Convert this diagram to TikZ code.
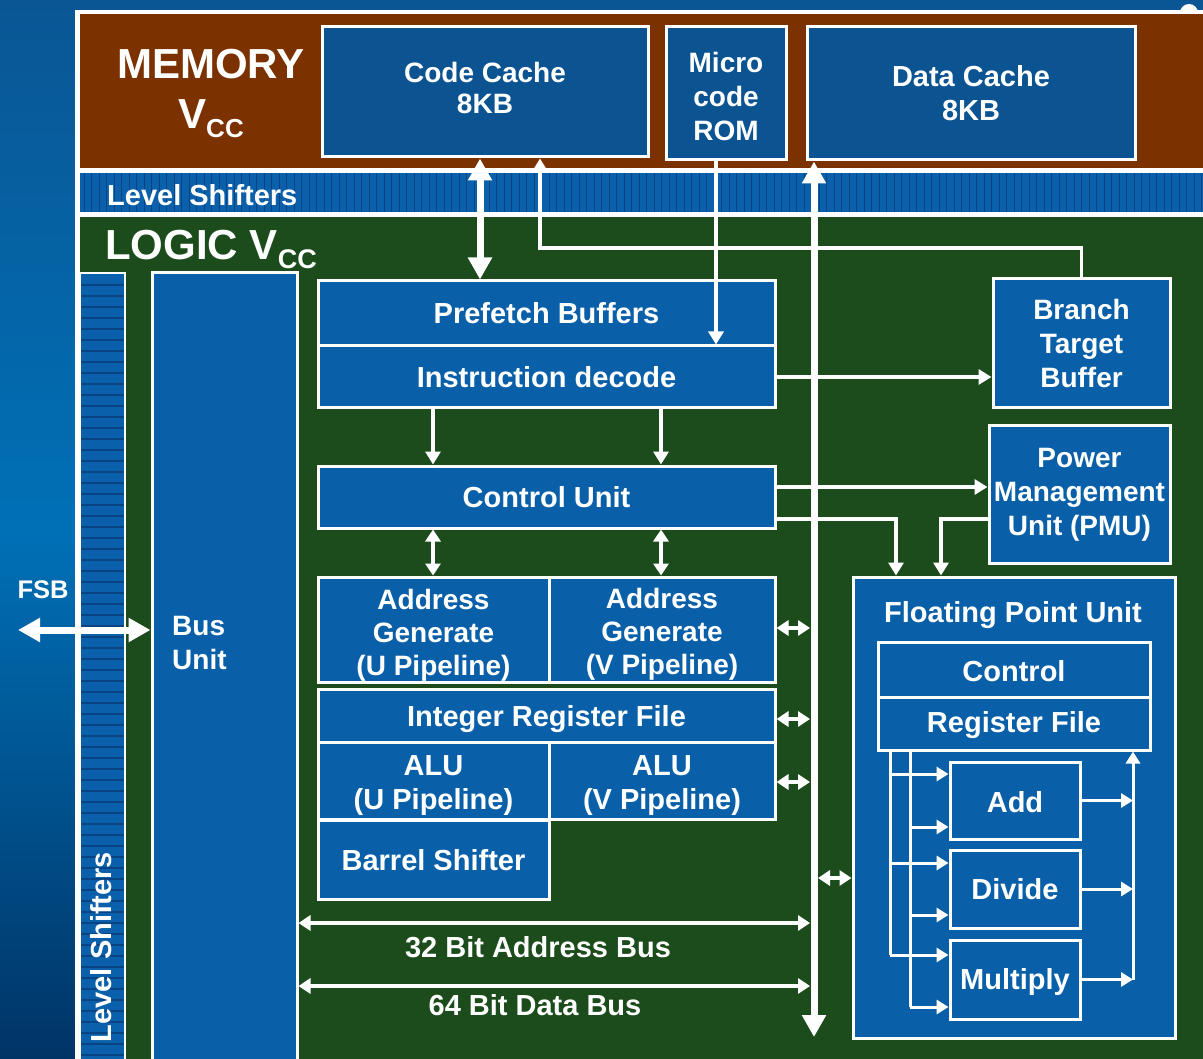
\documentclass[tikz,border=0pt]{standalone}
\usepackage{fontspec}
\setmainfont{Liberation Sans}
\usetikzlibrary{arrows.meta,calc}
\definecolor{bgtop}{RGB}{10,86,148}
\definecolor{bgmid}{RGB}{0,112,182}
\definecolor{bgbot}{RGB}{0,52,102}
\definecolor{brownmem}{RGB}{124,50,0}
\definecolor{greenlog}{RGB}{28,76,28}
\definecolor{boxblue}{RGB}{10,96,168}
\definecolor{memblue}{RGB}{11,83,145}
\definecolor{lsblue}{RGB}{10,96,170}
\definecolor{lsdark}{RGB}{8,68,130}
\begin{document}
\begin{tikzpicture}[x=1pt,y=-1pt,
  box/.style={draw=white,line width=3pt,fill=boxblue,text=white,
    font=\fontsize{29}{34}\selectfont\bfseries,align=center,inner sep=0pt},
  mbox/.style={box,fill=memblue},
  txt/.style={text=white,font=\fontsize{29}{34}\selectfont\bfseries,inner sep=0pt,align=center},
  stxt/.style={txt,font=\fontsize{28}{34}\selectfont\bfseries},
  arr/.style={draw=white,line width=3.5pt,-{Triangle[length=13pt,width=15pt]}},
  farr/.style={draw=white,line width=3pt,-{Triangle[length=12pt,width=14pt]}},
  darr/.style={draw=white,line width=3.5pt,{Triangle[length=12pt,width=15pt]}-{Triangle[length=12pt,width=15pt]}},
  bigarr/.style={draw=white,line width=7pt,{Triangle[length=22pt,width=23pt]}-{Triangle[length=22pt,width=23pt]}},
  ln/.style={draw=white,line width=3pt}]
\useasboundingbox (0,0) rectangle (1203,1059);
% background
\fill[top color=bgtop,bottom color=bgbot,middle color=bgmid] (0,0) rectangle (1203,1059);
\fill[white] (1189,13) circle (9);
\fill[white] (75,10) rectangle (1210,1070);
\fill[brownmem] (80,14) rectangle (1210,168);
\fill[lsblue] (80,173) rectangle (1210,212);
\foreach \x in {84,91.5,...,1203} \draw[lsdark,line width=1pt] (\x,173) -- (\x,212);
\fill[greenlog] (80,217) rectangle (1210,1070);
% left level shifter strip
\fill[lsblue] (80,273) rectangle (125,1070);
\foreach \y in {285,296,...,1059} \draw[lsdark,line width=1.8pt] (80,\y) -- (125,\y);
\draw[white,line width=2pt] (80,1070) -- (80,273) -- (125,273) -- (125,1070);
% labels
\node[txt,font=\fontsize{42}{50}\selectfont\bfseries] (memlbl) at (211,93.5)
  {MEMORY\\V\raisebox{-9pt}{\fontsize{26}{26}\selectfont CC}};
\node[txt,anchor=west] (lstop) at (107,195) {Level Shifters};
\node[txt,font=\fontsize{42}{50}\selectfont\bfseries,anchor=base west] (loglbl) at (105,260)
  {LOGIC V\raisebox{-9pt}{\fontsize{27}{27}\selectfont CC}};
\node[txt,rotate=90] (lsvert) at (101,947) {Level Shifters};
% memory boxes
\node[mbox,minimum width=326,minimum height=130,
  label={[stxt,yshift=4pt]center:{Code Cache\\[-3pt]8KB}}] (cc) at (485,92) {};
\node[mbox,minimum width=120,minimum height=133,
  label={[stxt,yshift=-3pt]center:{Micro\\code\\ROM}}] (rom) at (726,93.5) {};
\node[mbox,minimum width=328,minimum height=133] (dc) at (971,93.5) {Data Cache\\8KB};
% logic boxes
\node[box,minimum width=145,minimum height=802] (bus) at (224.5,674) {};
\node[stxt,align=left,anchor=west] (bustxt) at (172,643) {Bus\\Unit};
\node[box,minimum width=457,minimum height=65] (pf) at (546.5,313.5) {Prefetch Buffers};
\node[box,minimum width=457,minimum height=62] (id) at (546.5,377) {Instruction decode};
\node[box,minimum width=457,minimum height=62] (cu) at (546.5,497) {Control Unit};
\node[box,minimum width=231,minimum height=105,
  label={[stxt,yshift=-6pt,font=\fontsize{28}{33}\selectfont\bfseries]center:{Address\\Generate\\(U Pipeline)}}] (agu) at (433.5,629.5) {};
\node[box,minimum width=226,minimum height=105,
  label={[stxt,yshift=-5pt,font=\fontsize{28}{33}\selectfont\bfseries]center:{Address\\Generate\\(V Pipeline)}}] (agv) at (662,629.5) {};
\node[box,minimum width=457,minimum height=53,
  label={[txt,yshift=-4pt]center:{Integer Register File}}] (irf) at (546.5,715.5) {};
\node[box,minimum width=231,minimum height=77,
  label={[txt,yshift=-5pt]center:{ALU\\(U Pipeline)}}] (aluu) at (433.5,780.5) {};
\node[box,minimum width=226,minimum height=77,
  label={[txt,yshift=-5pt]center:{ALU\\(V Pipeline)}}] (aluv) at (662,780.5) {};
\node[box,minimum width=231,minimum height=79] (bs) at (433.5,860) {Barrel Shifter};
\node[box,minimum width=177,minimum height=129,font=\fontsize{28}{34}\selectfont\bfseries] (btb) at (1081.5,343.5) {Branch\\Target\\Buffer};
\node[box,minimum width=181,minimum height=137,font=\fontsize{28}{34}\selectfont\bfseries] (pmu) at (1079.5,494.5) {Power\\Management\\Unit (PMU)};
\node[box,minimum width=322,minimum height=461] (fpu) at (1014,807.5) {};
\node[txt] (fputxt) at (1013,615) {Floating Point Unit};
\node[box,minimum width=272,minimum height=55,
  label={[txt,yshift=-2pt]center:{Control}}] (fctl) at (1014,669.5) {};
\node[box,minimum width=272,minimum height=53,
  label={[txt,yshift=-2pt]center:{Register File}}] (frf) at (1014,723.5) {};
\node[box,minimum width=130,minimum height=77,
  label={[txt,yshift=-2pt]center:{Add}}] (add) at (1015,800.5) {};
\node[box,minimum width=130,minimum height=78] (div) at (1015,889) {Divide};
\node[box,minimum width=130,minimum height=79,
  label={[txt,yshift=-2pt]center:{Multiply}}] (mul) at (1015,979.5) {};
% coordinates
\coordinate (ccx) at (480,0);
\coordinate (fb) at (540,248);
\coordinate (romx) at (716,0);
\coordinate (dbx) at (814,1037);
\coordinate (dbl) at (810,0);
\coordinate (dbr) at (818,0);
\coordinate (ux) at (433,0);
\coordinate (vx) at (661,0);
\coordinate (c1) at (0,487);
\coordinate (c2) at (896,519);
\coordinate (c3) at (941,519);
\coordinate (b1) at (0,628);
\coordinate (b2) at (0,719);
\coordinate (b3) at (0,782);
\coordinate (b4) at (0,878);
\coordinate (ab) at (0,923);
\coordinate (db) at (0,986);
\coordinate (fsb) at (18,630);
\coordinate (f1) at (890,0);
\coordinate (f2) at (910,0);
\coordinate (fo) at (1133,0);
\coordinate (ya1) at (0,774);
\coordinate (ya2) at (0,827);
\coordinate (yd1) at (0,863);
\coordinate (yd2) at (0,915);
\coordinate (ym1) at (0,955);
\coordinate (ym2) at (0,1007);
% connectors
\draw[bigarr] (ccx |- cc.south) -- (ccx |- pf.north);
\draw[arr] (btb.north) |- (fb) -- (fb |- cc.south);
\draw[arr] (romx |- rom.south) -- (romx |- id.north);
\draw[bigarr] (dbx) -- (dbx |- dc.south);
\draw[arr] (id.east) -- (btb.west |- id.east);
\draw[arr] (ux |- id.south) -- (ux |- cu.north);
\draw[arr] (vx |- id.south) -- (vx |- cu.north);
\draw[darr] (ux |- cu.south) -- (ux |- agu.north);
\draw[darr] (vx |- cu.south) -- (vx |- agv.north);
\draw[arr] (c1 -| cu.east) -- (c1 -| pmu.west);
\draw[arr] (c2 -| cu.east) -| (c2 |- fpu.north);
\draw[arr] (c3 -| pmu.west) -| (c3 |- fpu.north);
\draw[darr] (b1 -| agv.east) -- (b1 -| dbl);
\draw[darr] (b2 -| irf.east) -- (b2 -| dbl);
\draw[darr] (b3 -| aluv.east) -- (b3 -| dbl);
\draw[darr] (b4 -| dbr) -- (b4 -| fpu.west);
\draw[darr] (ab -| bus.east) -- (ab -| dbl);
\draw[darr] (db -| bus.east) -- (db -| dbl);
\node[txt] (abtxt) at (538,947) {32 Bit Address Bus};
\node[txt] (dbtxt) at (535,1005) {64 Bit Data Bus};
\draw[bigarr] (fsb) -- (fsb -| bus.west);
\node[txt,font=\fontsize{25.5}{28}\selectfont\bfseries] (fsbtxt) at (43,590) {FSB};
% FPU internals
\draw[ln] (f1 |- frf.south) -- (f1 |- ym1);
\draw[ln] (f2 |- frf.south) -- (f2 |- ym2);
\draw[farr] (f1 |- ya1) -- (ya1 -| add.west);
\draw[farr] (f2 |- ya2) -- (ya2 -| add.west);
\draw[farr] (f1 |- yd1) -- (yd1 -| div.west);
\draw[farr] (f2 |- yd2) -- (yd2 -| div.west);
\draw[farr] (f1 |- ym1) -- (ym1 -| mul.west);
\draw[farr] (f2 |- ym2) -- (ym2 -| mul.west);
\draw[farr] (add.east) -- (fo |- add.east);
\draw[farr] (div.east) -- (fo |- div.east);
\draw[farr] (mul.east) -- (fo |- mul.east);
\draw[farr] (fo |- mul.east) -- (fo |- frf.south);
\end{tikzpicture}
\end{document}
